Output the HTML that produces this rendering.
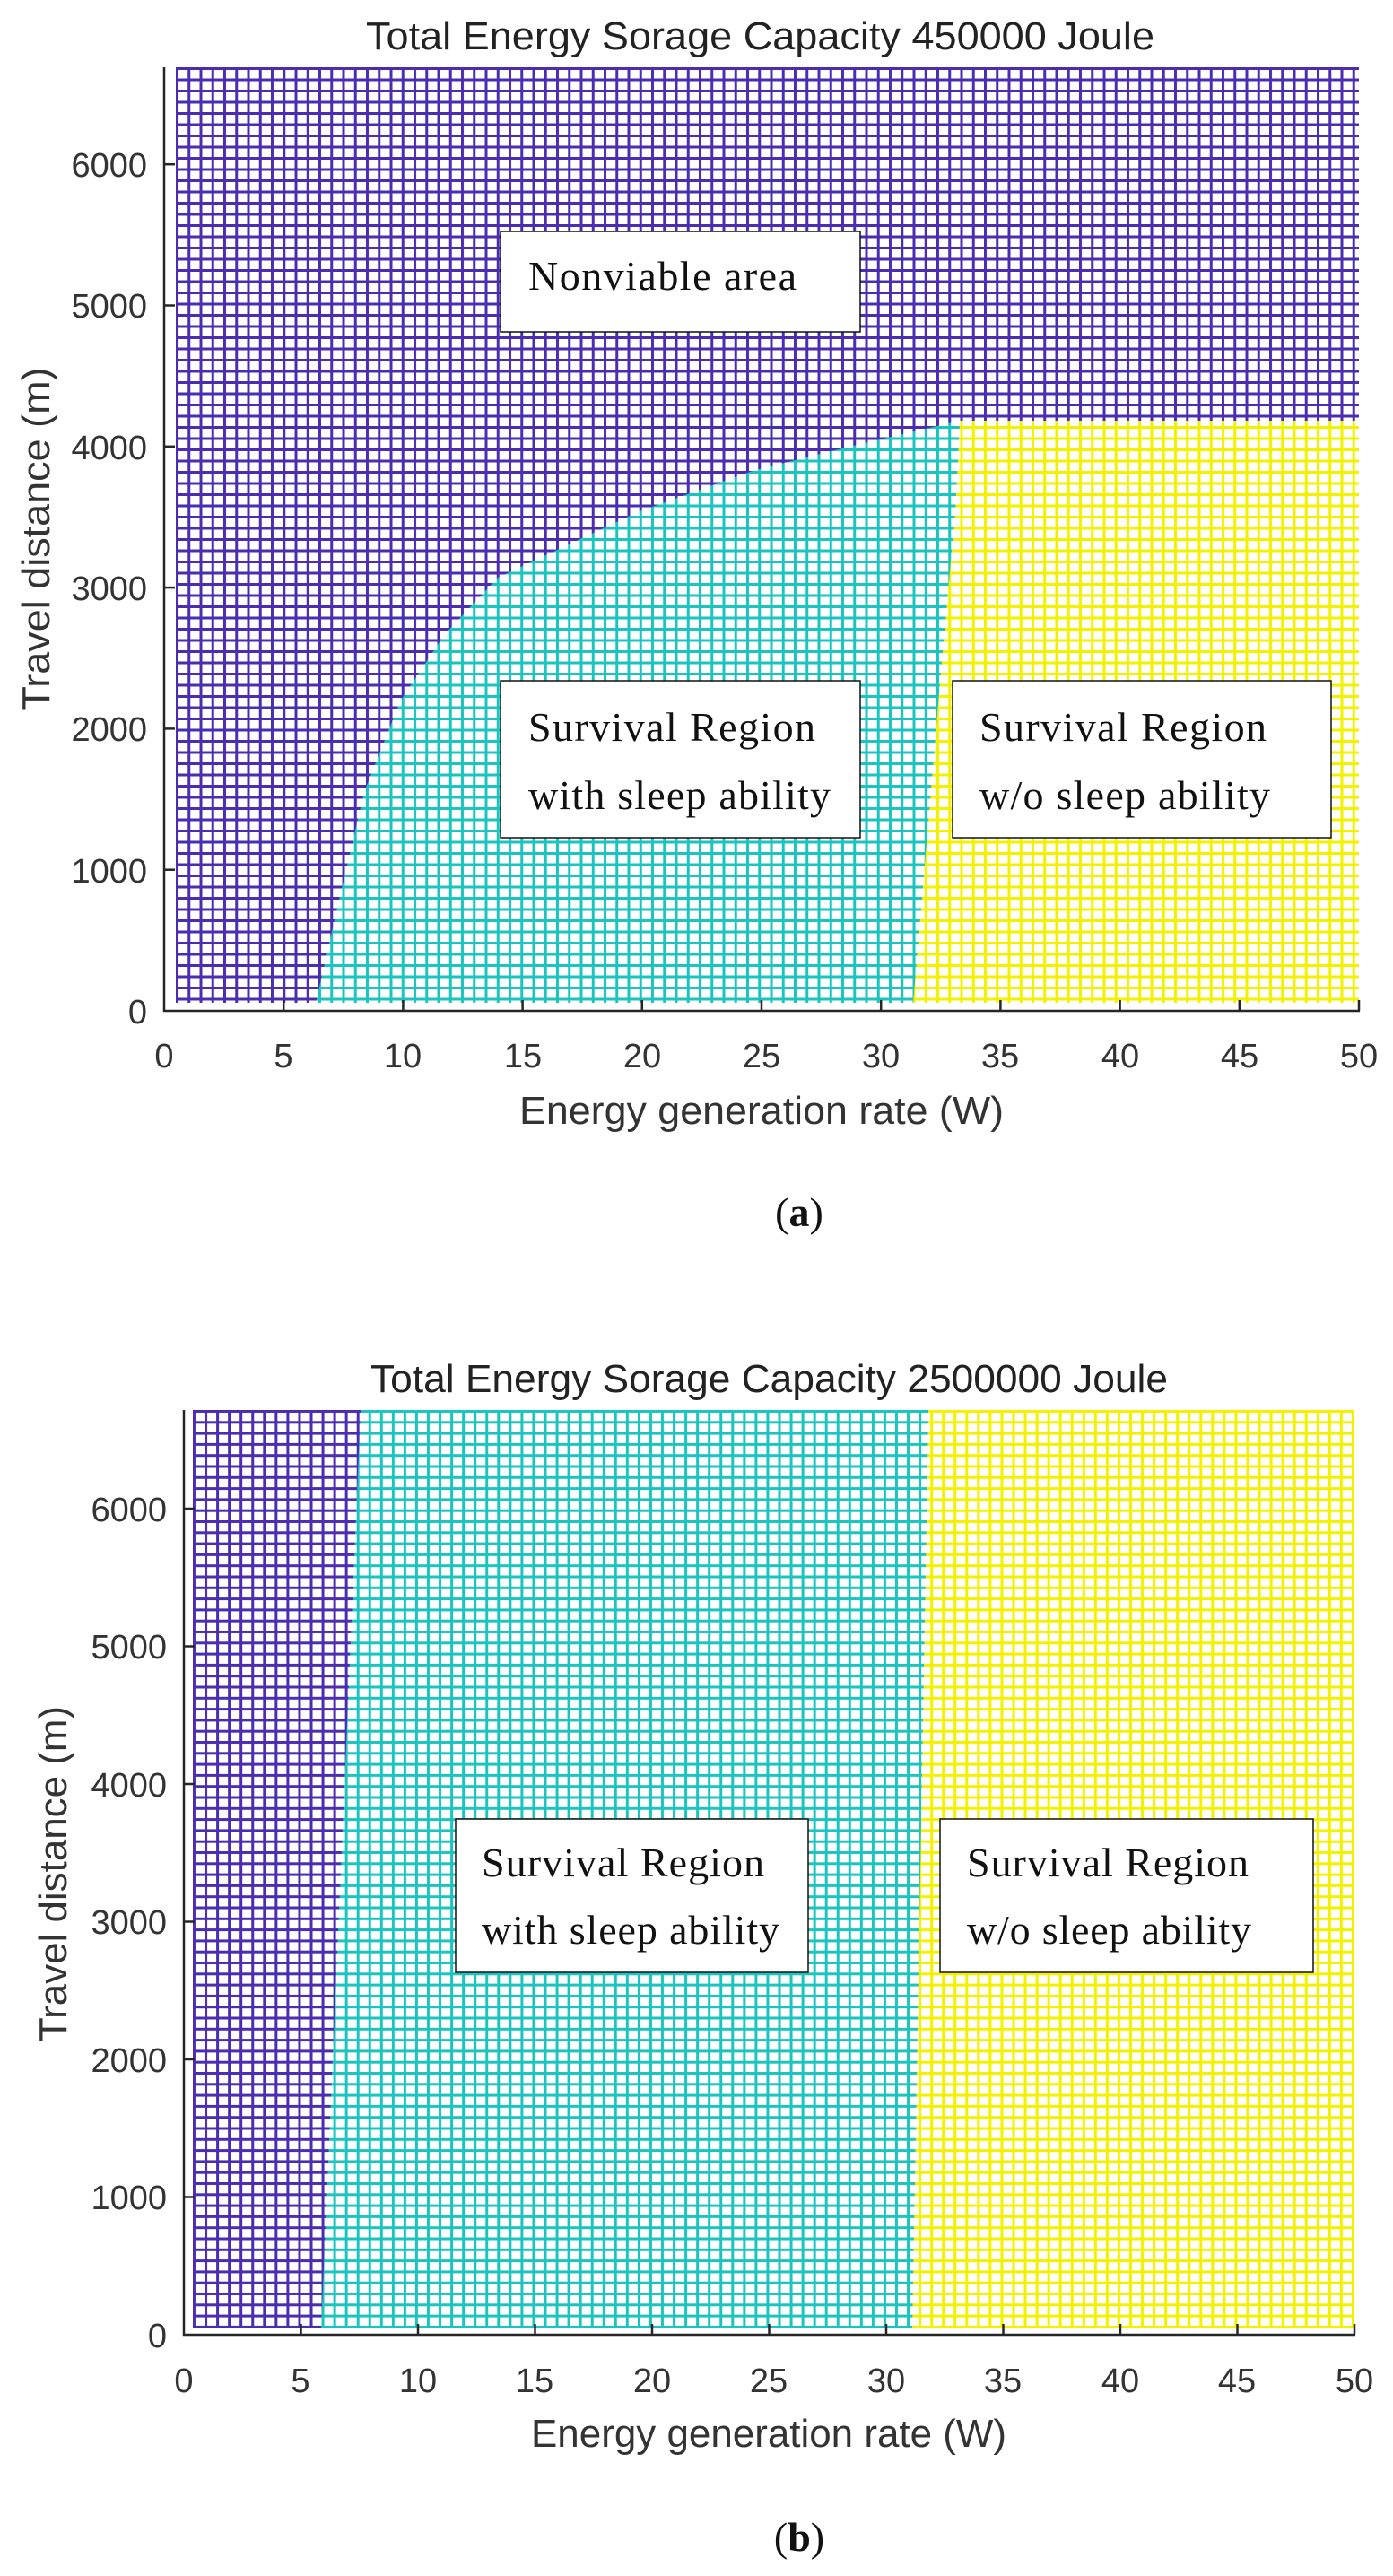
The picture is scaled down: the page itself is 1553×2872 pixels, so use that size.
<!DOCTYPE html>
<html><head><meta charset="utf-8"><style>html,body{margin:0;padding:0;background:#fff}svg{display:block}</style></head><body>
<svg xmlns="http://www.w3.org/2000/svg" width="1553" height="2872" viewBox="0 0 1553 2872">
<defs>
<pattern id="pp" patternUnits="userSpaceOnUse" x="196" y="75" width="13.25" height="12.5"><rect width="13.25" height="12.5" fill="#fff"/><rect width="3" height="12.5" fill="#4a2db0"/><rect width="13.25" height="3" fill="#4a2db0"/></pattern>
<pattern id="pc" patternUnits="userSpaceOnUse" x="196" y="75" width="13.25" height="12.5"><rect width="13.25" height="12.5" fill="#fff"/><rect width="3" height="12.5" fill="#1cc4be"/><rect width="13.25" height="3" fill="#1cc4be"/></pattern>
<pattern id="py" patternUnits="userSpaceOnUse" x="196" y="75" width="13.25" height="12.5"><rect width="13.25" height="12.5" fill="#fff"/><rect width="3" height="12.5" fill="#f2f200"/><rect width="13.25" height="3" fill="#f2f200"/></pattern>
<pattern id="qp" patternUnits="userSpaceOnUse" x="215" y="1572" width="13.05" height="12.3"><rect width="13.05" height="12.3" fill="#fff"/><rect width="3" height="12.3" fill="#4a2db0"/><rect width="13.05" height="3" fill="#4a2db0"/></pattern>
<pattern id="qc" patternUnits="userSpaceOnUse" x="215" y="1572" width="13.05" height="12.3"><rect width="13.05" height="12.3" fill="#fff"/><rect width="3" height="12.3" fill="#1cc4be"/><rect width="13.05" height="3" fill="#1cc4be"/></pattern>
<pattern id="qy" patternUnits="userSpaceOnUse" x="215" y="1572" width="13.05" height="12.3"><rect width="13.05" height="12.3" fill="#fff"/><rect width="3" height="12.3" fill="#f2f200"/><rect width="13.05" height="3" fill="#f2f200"/></pattern>
</defs>

<!-- Chart a -->
<rect x="196" y="75" width="1319" height="1043" fill="url(#pp)"/>
<polygon fill="url(#pc)" points="352,1118 376,1012 406,883 446,782 495,708 555,644 634,607 713,570 842,524 951,497 1070,469 1065,570 1050,736 1018,1118"/>
<polygon fill="url(#py)" points="1070,469 1515,469 1515,1118 1018,1118 1050,736 1065,570"/>
<g stroke="#262626" stroke-width="2.5" fill="none">
<line x1="183" y1="75" x2="183" y2="1128"/><line x1="182" y1="1127" x2="1516" y2="1127"/>
</g>
<g stroke="#262626" stroke-width="2.5">
<line x1="316.2" y1="1127" x2="316.2" y2="1115"/><line x1="449.4" y1="1127" x2="449.4" y2="1115"/><line x1="582.6" y1="1127" x2="582.6" y2="1115"/><line x1="715.8" y1="1127" x2="715.8" y2="1115"/><line x1="849" y1="1127" x2="849" y2="1115"/><line x1="982.2" y1="1127" x2="982.2" y2="1115"/><line x1="1115.4" y1="1127" x2="1115.4" y2="1115"/><line x1="1248.6" y1="1127" x2="1248.6" y2="1115"/><line x1="1381.8" y1="1127" x2="1381.8" y2="1115"/><line x1="1515" y1="1127" x2="1515" y2="1115"/>
<line x1="183" y1="969.7" x2="195" y2="969.7"/><line x1="183" y1="812.4" x2="195" y2="812.4"/><line x1="183" y1="655.1" x2="195" y2="655.1"/><line x1="183" y1="497.8" x2="195" y2="497.8"/><line x1="183" y1="340.5" x2="195" y2="340.5"/><line x1="183" y1="183.2" x2="195" y2="183.2"/>
</g>
<g font-family="Liberation Sans, Arial, sans-serif" font-size="38" fill="#333" text-anchor="middle">
<text x="183" y="1190">0</text><text x="316" y="1190">5</text><text x="449" y="1190">10</text><text x="583" y="1190">15</text><text x="716" y="1190">20</text><text x="849" y="1190">25</text><text x="982" y="1190">30</text><text x="1115" y="1190">35</text><text x="1249" y="1190">40</text><text x="1382" y="1190">45</text><text x="1515" y="1190">50</text>
</g>
<g font-family="Liberation Sans, Arial, sans-serif" font-size="38" fill="#333" text-anchor="end">
<text x="164" y="1141">0</text><text x="164" y="984">1000</text><text x="164" y="826">2000</text><text x="164" y="669">3000</text><text x="164" y="512">4000</text><text x="164" y="354">5000</text><text x="164" y="197">6000</text>
</g>
<text x="408" y="55" font-family="Liberation Sans, Arial, sans-serif" font-size="44" fill="#222" textLength="879" lengthAdjust="spacingAndGlyphs">Total Energy Sorage Capacity 450000 Joule</text>
<text x="579" y="1253" font-family="Liberation Sans, Arial, sans-serif" font-size="44" fill="#333" textLength="540" lengthAdjust="spacingAndGlyphs">Energy generation rate (W)</text>
<text transform="translate(55,601) rotate(-90)" text-anchor="middle" font-family="Liberation Sans, Arial, sans-serif" font-size="44" fill="#333" textLength="383" lengthAdjust="spacingAndGlyphs">Travel distance (m)</text>
<g stroke="#111" stroke-width="1.5" fill="#fff">
<rect x="558" y="258" width="401" height="112"/><rect x="558" y="759" width="401" height="175"/><rect x="1062" y="759" width="422" height="175"/>
</g>
<g font-family="Liberation Serif, 'Times New Roman', serif" font-size="46" fill="#111" lengthAdjust="spacingAndGlyphs">
<text x="589" y="323" textLength="299">Nonviable area</text>
<text x="589" y="826" textLength="320">Survival Region</text>
<text x="589" y="902" textLength="337">with sleep ability</text>
<text x="1092" y="826" textLength="320">Survival Region</text>
<text x="1092" y="902" textLength="324">w/o sleep ability</text>
</g>
<text x="891" y="1367" text-anchor="middle" font-family="Liberation Serif, 'Times New Roman', serif" font-size="46" fill="#111">(<tspan font-weight="bold">a</tspan>)</text>

<!-- Chart b -->
<rect x="215" y="1572" width="1295" height="1023" fill="url(#qp)"/>
<polygon fill="url(#qc)" points="402,1572 1035,1572 1017,2595 358,2595"/>
<polygon fill="url(#qy)" points="1035,1572 1510,1572 1510,2595 1017,2595"/>
<g stroke="#262626" stroke-width="2.5" fill="none">
<line x1="205" y1="1572" x2="205" y2="2604"/><line x1="204" y1="2603" x2="1511" y2="2603"/>
</g>
<g stroke="#262626" stroke-width="2.5">
<line x1="335.5" y1="2603" x2="335.5" y2="2591"/><line x1="466" y1="2603" x2="466" y2="2591"/><line x1="596.5" y1="2603" x2="596.5" y2="2591"/><line x1="727" y1="2603" x2="727" y2="2591"/><line x1="857.5" y1="2603" x2="857.5" y2="2591"/><line x1="988" y1="2603" x2="988" y2="2591"/><line x1="1118.5" y1="2603" x2="1118.5" y2="2591"/><line x1="1249" y1="2603" x2="1249" y2="2591"/><line x1="1379.5" y1="2603" x2="1379.5" y2="2591"/><line x1="1510" y1="2603" x2="1510" y2="2591"/>
<line x1="205" y1="2449.5" x2="217" y2="2449.5"/><line x1="205" y1="2296" x2="217" y2="2296"/><line x1="205" y1="2142.5" x2="217" y2="2142.5"/><line x1="205" y1="1989" x2="217" y2="1989"/><line x1="205" y1="1835.5" x2="217" y2="1835.5"/><line x1="205" y1="1682" x2="217" y2="1682"/>
</g>
<g font-family="Liberation Sans, Arial, sans-serif" font-size="38" fill="#333" text-anchor="middle">
<text x="205" y="2667">0</text><text x="335" y="2667">5</text><text x="466" y="2667">10</text><text x="596" y="2667">15</text><text x="727" y="2667">20</text><text x="857" y="2667">25</text><text x="988" y="2667">30</text><text x="1118" y="2667">35</text><text x="1249" y="2667">40</text><text x="1379" y="2667">45</text><text x="1510" y="2667">50</text>
</g>
<g font-family="Liberation Sans, Arial, sans-serif" font-size="38" fill="#333" text-anchor="end">
<text x="186" y="2617">0</text><text x="186" y="2463">1000</text><text x="186" y="2310">2000</text><text x="186" y="2156">3000</text><text x="186" y="2003">4000</text><text x="186" y="1849">5000</text><text x="186" y="1696">6000</text>
</g>
<text x="413" y="1552" font-family="Liberation Sans, Arial, sans-serif" font-size="44" fill="#222" textLength="889" lengthAdjust="spacingAndGlyphs">Total Energy Sorage Capacity 2500000 Joule</text>
<text x="592" y="2728" font-family="Liberation Sans, Arial, sans-serif" font-size="44" fill="#333" textLength="530" lengthAdjust="spacingAndGlyphs">Energy generation rate (W)</text>
<text transform="translate(74,2089) rotate(-90)" text-anchor="middle" font-family="Liberation Sans, Arial, sans-serif" font-size="44" fill="#333" textLength="374" lengthAdjust="spacingAndGlyphs">Travel distance (m)</text>
<g stroke="#111" stroke-width="1.5" fill="#fff">
<rect x="508" y="2028" width="393" height="171"/><rect x="1048" y="2028" width="416" height="171"/>
</g>
<g font-family="Liberation Serif, 'Times New Roman', serif" font-size="46" fill="#111" lengthAdjust="spacingAndGlyphs">
<text x="537" y="2092" textLength="315">Survival Region</text>
<text x="537" y="2167" textLength="332">with sleep ability</text>
<text x="1078" y="2092" textLength="314">Survival Region</text>
<text x="1078" y="2167" textLength="317">w/o sleep ability</text>
</g>
<text x="891" y="2844" text-anchor="middle" font-family="Liberation Serif, 'Times New Roman', serif" font-size="46" fill="#111">(<tspan font-weight="bold">b</tspan>)</text>
</svg>
</body></html>
